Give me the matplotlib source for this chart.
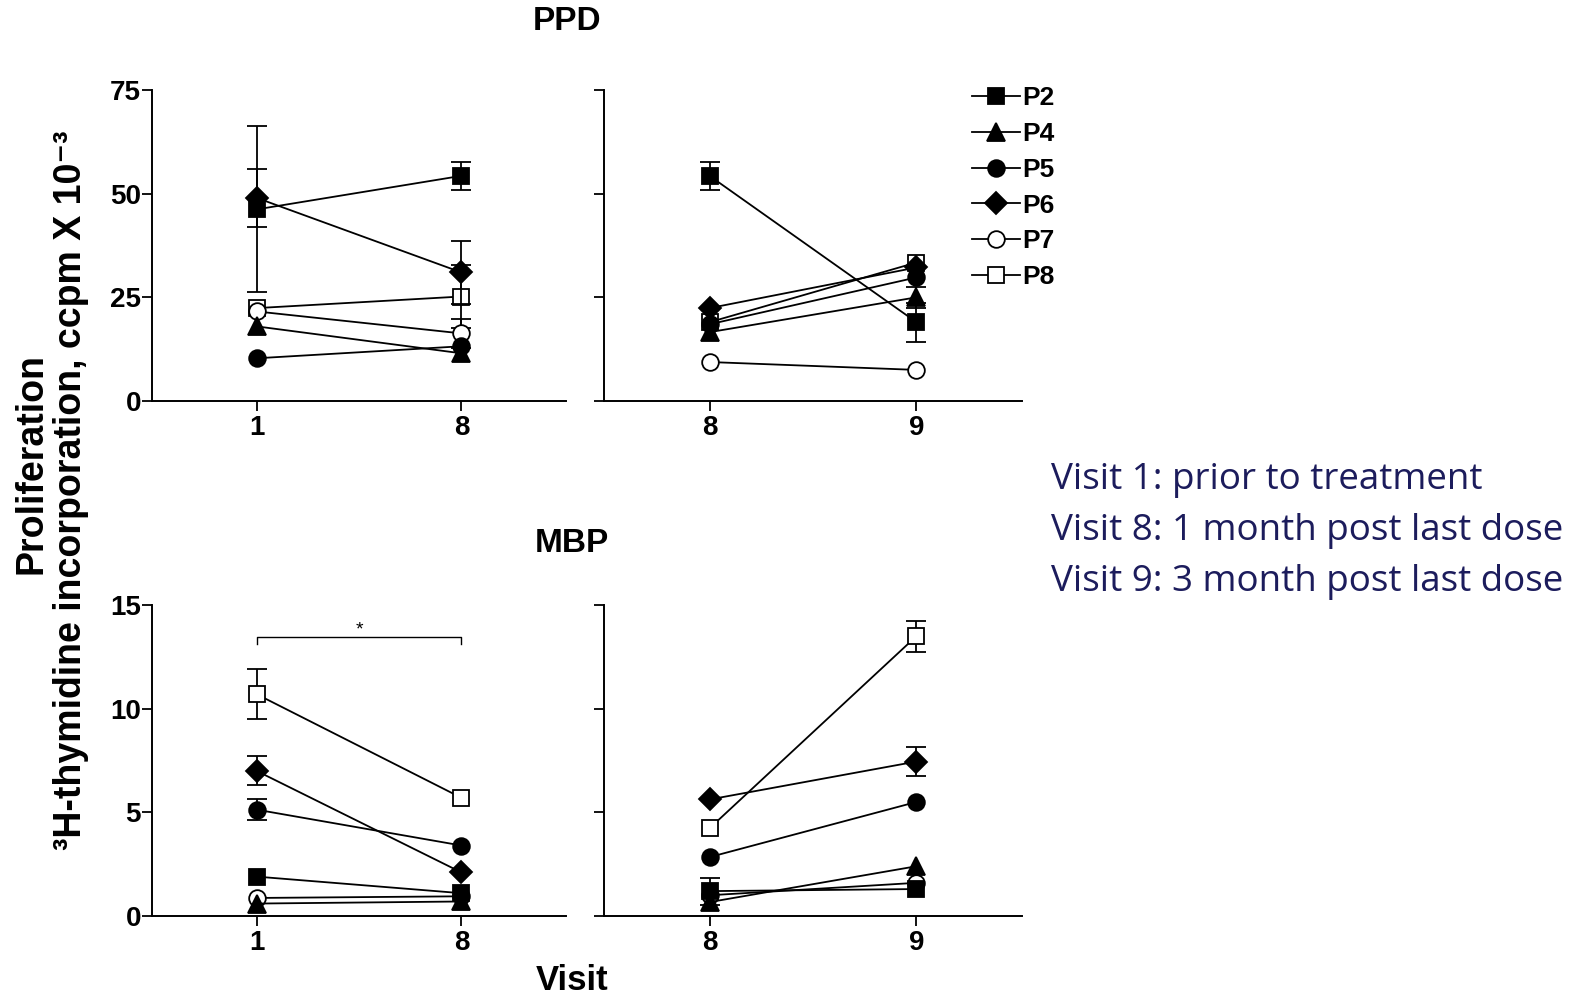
import matplotlib
matplotlib.use("Agg")
import matplotlib.pyplot as plt
import numpy as np

plt.rcParams['font.family'] = ['Liberation Sans', 'DejaVu Sans']

patients = ["P2", "P4", "P5", "P6", "P7", "P8"]
markers = ["s", "^", "o", "D", "o", "s"]
filled = [True, True, True, True, False, False]
msizes = [12, 13, 12, 11, 12, 12]

ppd_left_ticks = ["1", "8"]
ppd_right_ticks = ["8", "9"]
mbp_left_ticks = ["1", "8"]
mbp_right_ticks = ["8", "9"]

# PPD, visit 1 -> 8
ppd_left_vals = [[46.2, 54.3], [18.0, 11.5], [10.3, 13.2], [49.0, 31.0], [21.6, 16.3], [22.4, 25.2]]
ppd_left_err = [[20.0, 3.3], [0, 0], [0, 0], [7.0, 7.6], [0, 3.4], [0, 7.5]]
# PPD, visit 8 -> 9
ppd_right_vals = [[54.3, 19.0], [16.6, 25.0], [18.5, 29.8], [22.4, 32.2], [9.4, 7.5], [19.0, 33.4]]
ppd_right_err = [[3.4, 4.7], [0, 2.5], [0, 0], [0, 0], [0, 0], [0, 0]]
# MBP, visit 1 -> 8
mbp_left_vals = [[1.9, 1.1], [0.6, 0.7], [5.13, 3.4], [7.0, 2.1], [0.87, 0.95], [10.7, 5.7]]
mbp_left_err = [[0, 0], [0, 0], [0.5, 0], [0.7, 0], [0, 0], [1.2, 0]]
# MBP, visit 8 -> 9
mbp_right_vals = [[1.2, 1.3], [0.67, 2.4], [2.84, 5.5], [5.62, 7.45], [1.0, 1.6], [4.23, 13.5]]
mbp_right_err = [[0.65, 0], [0, 0], [0, 0], [0, 0.7], [0, 0], [0, 0.75]]

ppd_yticks = [0, 25, 50, 75]
mbp_yticks = [0, 5, 10, 15]

W, H = 1582, 1000
fig = plt.figure(figsize=(W / 100, H / 100), dpi=100)

def box(x0, y0, x1, y1):
    return [x0 / W, 1 - y1 / H, (x1 - x0) / W, (y1 - y0) / H]

ax_tl = fig.add_axes(box(152, 90, 566, 401))
ax_tr = fig.add_axes(box(604, 90, 1022, 401))
ax_bl = fig.add_axes(box(152, 605, 566, 916))
ax_br = fig.add_axes(box(604, 605, 1022, 916))

def draw(ax, vals, errs, ticks, yticks, show_ylabels):
    x = np.arange(len(ticks))
    n = len(vals)
    handles = []
    for i in range(n):
        z = 10 + (n - i) * 2
        v = np.array(vals[i], dtype=float)
        e = np.array(errs[i], dtype=float)
        m = e > 0
        if m.any():
            ax.errorbar(x[m], v[m], yerr=e[m], fmt='none', ecolor='black',
                        elinewidth=1.3, capsize=7, capthick=1.3, zorder=z - 1)
        h, = ax.plot(x, v, color='black', lw=1.3, marker=markers[i], ms=msizes[i],
                     mfc='black' if filled[i] else 'white', mec='black', mew=1.3,
                     zorder=z, label=patients[i])
        handles.append(h)
    ax.set_xlim(-0.51, 1.51)
    ax.set_ylim(yticks[0], yticks[-1])
    ax.set_xticks(x)
    ax.set_xticklabels(ticks)
    ax.set_yticks(yticks)
    if not show_ylabels:
        ax.set_yticklabels([])
    for s in ['top', 'right']:
        ax.spines[s].set_visible(False)
    for s in ['left', 'bottom']:
        ax.spines[s].set_linewidth(1.4)
    ax.tick_params(axis='both', length=7, width=1.3, labelsize=20)
    ax.tick_params(axis='y', pad=1)
    ax.tick_params(axis='x', pad=3)
    for lab in ax.get_xticklabels() + ax.get_yticklabels():
        lab.set_fontweight('bold')
    return handles

handles = draw(ax_tl, ppd_left_vals, ppd_left_err, ppd_left_ticks, ppd_yticks, True)
draw(ax_tr, ppd_right_vals, ppd_right_err, ppd_right_ticks, ppd_yticks, False)
draw(ax_bl, mbp_left_vals, mbp_left_err, mbp_left_ticks, mbp_yticks, True)
draw(ax_br, mbp_right_vals, mbp_right_err, mbp_right_ticks, mbp_yticks, False)

# significance bracket
ax_bl.plot([0, 0, 1, 1], [13.1, 13.45, 13.45, 13.1], color='black', lw=1.0, clip_on=False)
ax_bl.text(0.5, 13.8, "*", ha='center', va='center', fontsize=14)

fig.legend(handles, patients, loc='upper left', bbox_to_anchor=(972 / W, 1 - 86 / H),
           frameon=False, handlelength=1.8, handletextpad=0.1, labelspacing=0.45,
           prop={'weight': 'bold', 'size': 19}, borderaxespad=0, borderpad=0)

fig.text(567 / W, 1 - 22 / H, "PPD", ha='center', va='center', fontsize=24, fontweight='bold')
fig.text(572 / W, 1 - 543 / H, "MBP", ha='center', va='center', fontsize=24, fontweight='bold')
fig.text(572 / W, 1 - 981 / H, "Visit", ha='center', va='center', fontsize=25, fontweight='bold')

fig.text(31 / W, 1 - 463 / H, "Proliferation", rotation=90, ha='center', va='center',
         fontsize=27, fontweight='bold')
fig.text(71 / W, 1 - 490 / H, "³H-thymidine incorporation, ccpm X 10⁻³", rotation=90,
         ha='center', va='center', fontsize=27, fontweight='bold')

info = ["Visit 1: prior to treatment",
        "Visit 8: 1 month post last dose",
        "Visit 9: 3 month post last dose"]
for k, t in enumerate(info):
    fig.text(1051 / W, 1 - (480 + 51 * k) / H, t, ha='left', va='center', fontsize=26.5,
             color='#1c1c5c', family=['Open Sans', 'DejaVu Sans'])

fig.savefig("out.png", dpi=100)
